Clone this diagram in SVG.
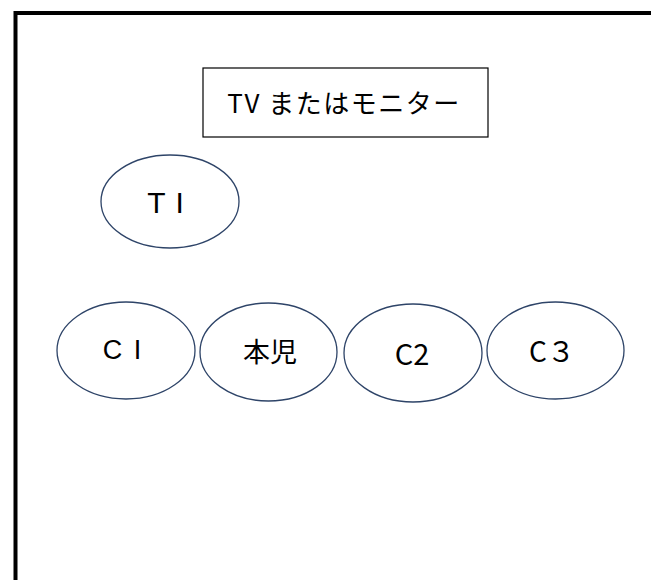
<svg xmlns="http://www.w3.org/2000/svg" width="651" height="580" viewBox="0 0 651 580">
<style>
.lbl{font-family:"Noto Sans CJK JP","Noto Sans",sans-serif;fill:#000;text-anchor:middle;dominant-baseline:central}
.lbl.lat{font-family:"Liberation Sans","DejaVu Sans",sans-serif}
.oval{fill:#fff;stroke:#2E4468;stroke-width:1.3}
</style>
<rect x="0" y="0" width="651" height="580" fill="#fff"/>
<path d="M15.5 580 V13 H651" fill="none" stroke="#000" stroke-width="4"/>
<g id="tv">
<rect x="203" y="68" width="285" height="69" fill="#fff" stroke="#000" stroke-width="1.2"/>
<text class="lbl" x="344" y="101" font-size="26" letter-spacing="1.5">TV またはモニター</text>
</g>
<g id="t1">
<ellipse class="oval" cx="170" cy="201.5" rx="69" ry="46.5"/>
<text class="lbl lat" x="166" y="202" font-size="30" letter-spacing="1" xml:space="preserve">T I</text>
</g>
<g id="c1">
<ellipse class="oval" cx="126" cy="350.5" rx="69" ry="48.5"/>
<text class="lbl lat" x="123" y="350" font-size="27" letter-spacing="2" xml:space="preserve">C I</text>
</g>
<g id="honji">
<ellipse class="oval" cx="268.5" cy="352" rx="68.5" ry="49"/>
<text class="lbl" x="270" y="350" font-size="27">本児</text>
</g>
<g id="c2">
<ellipse class="oval" cx="413" cy="353" rx="69" ry="49"/>
<text class="lbl" x="412" y="352" font-size="29">C2</text>
</g>
<g id="c3">
<ellipse class="oval" cx="555.5" cy="350.5" rx="68.5" ry="48.5"/>
<text class="lbl" x="552" y="350" font-size="28">C３</text>
</g>
<g id="connectors"></g>
</svg>
